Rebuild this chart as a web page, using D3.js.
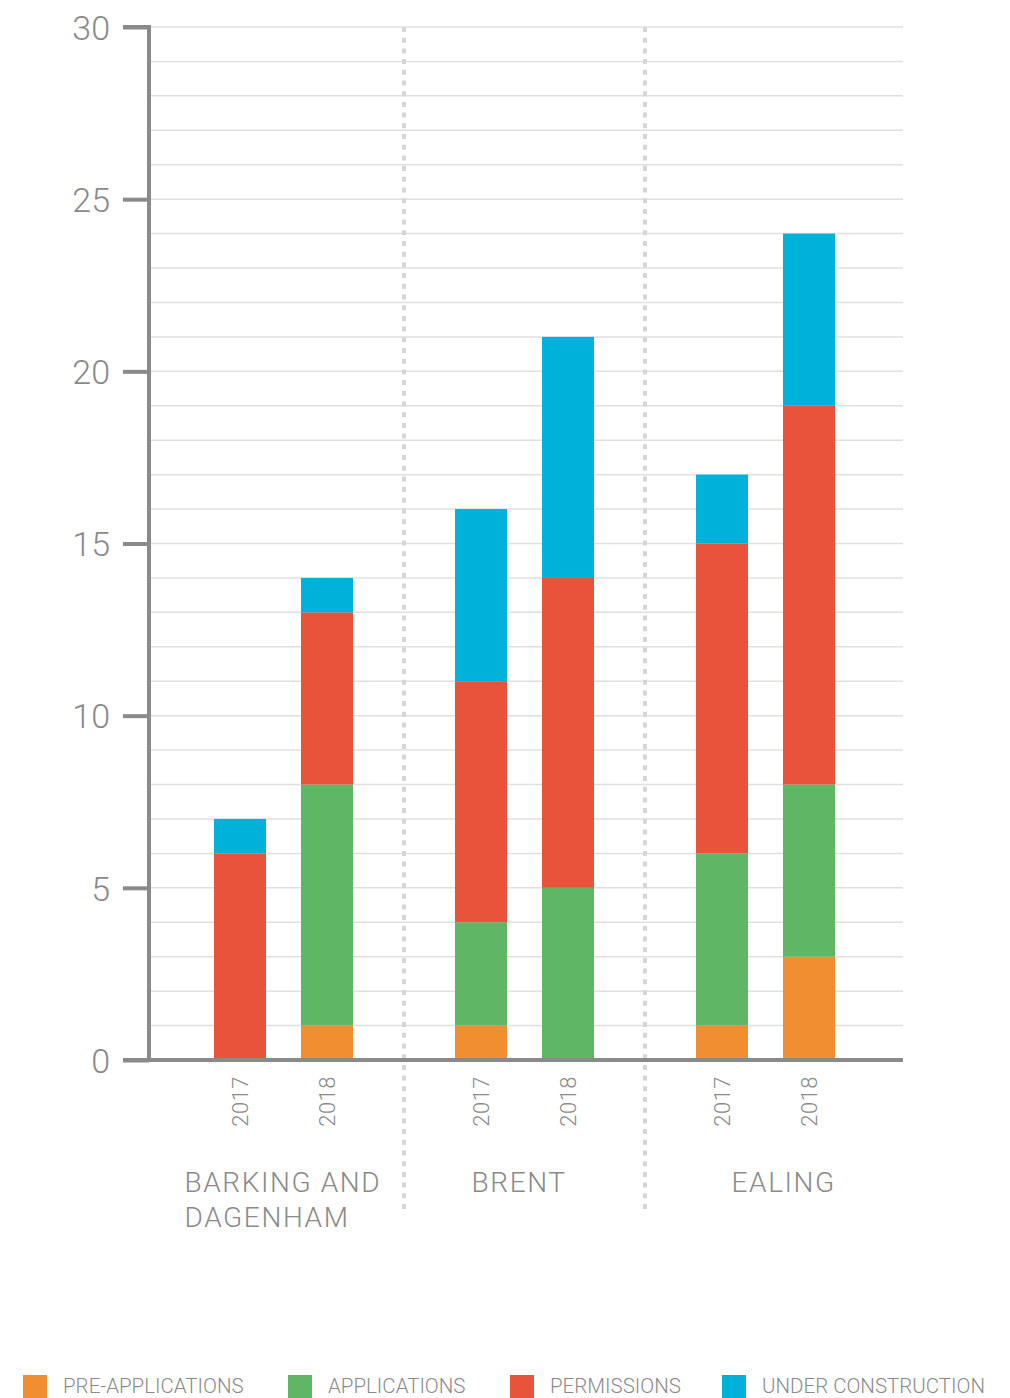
<!DOCTYPE html>
<html>
<head>
<meta charset="utf-8">
<script src="https://cdn.jsdelivr.net/npm/d3@7/dist/d3.min.js"></script>
<style>
  html, body { margin: 0; padding: 0; background: #fff; }
  svg { display: block; }
  text { font-family: Roboto, "Liberation Sans", sans-serif; fill: #8a8a8a; }
</style>
</head>
<body>
<svg id="chart" width="1010" height="1398"></svg>
<script>
// Boroughs, years and stage series
const boroughs = ["BARKING AND DAGENHAM", "BRENT", "EALING"];
const boroughLines = [["BARKING AND", "DAGENHAM"], ["BRENT"], ["EALING"]];
const years = ["2017", "2018"];
const stages = ["PRE-APPLICATIONS", "APPLICATIONS", "PERMISSIONS", "UNDER CONSTRUCTION"];
const stageColors = ["#f28e32", "#5fb766", "#e9533b", "#00b1da"];

// One value per borough/year, in borough order then year order
const preApplications   = [0, 1, 1, 0, 1, 3];
const applications      = [0, 7, 3, 5, 5, 5];
const permissions       = [6, 5, 7, 9, 9, 11];
const underConstruction = [1, 1, 5, 7, 2, 5];

const yTicks = [0, 5, 10, 15, 20, 25, 30];

const rows = [];
boroughs.forEach((b, bi) => years.forEach((yr, yi) => {
  const i = bi * years.length + yi;
  rows.push({
    borough: b, year: yr,
    "PRE-APPLICATIONS": preApplications[i],
    "APPLICATIONS": applications[i],
    "PERMISSIONS": permissions[i],
    "UNDER CONSTRUCTION": underConstruction[i]
  });
}));

const svg = d3.select("#chart");
const axisX = 149, plotRight = 903, plotTop = 27, plotBottom = 1060;

const y = d3.scaleLinear().domain([0, 30]).range([plotBottom, plotTop]);
const xGroup = d3.scaleBand().domain(boroughs).range([163, 886]);
const xYear = d3.scalePoint().domain(years).range([-43.5, 43.5]);
const barW = 52;
const color = d3.scaleOrdinal().domain(stages).range(stageColors);

// Minor gridlines every unit
svg.append("g").selectAll("line")
  .data(d3.range(1, 31))
  .join("line")
  .attr("x1", axisX).attr("x2", plotRight)
  .attr("y1", d => y(d)).attr("y2", d => y(d))
  .attr("stroke", "#e0e0e0").attr("stroke-width", 1.5);

// Dotted separators between boroughs
svg.append("g").selectAll("line")
  .data(boroughs.slice(1))
  .join("line")
  .attr("x1", d => xGroup(d)).attr("x2", d => xGroup(d))
  .attr("y1", plotTop).attr("y2", 1215)
  .attr("stroke", "#d6d6d6").attr("stroke-width", 4)
  .attr("stroke-dasharray", "5 5.7");

// Stacked bars (zero-height segments skipped)
const series = d3.stack().keys(stages)(rows);
svg.append("g").selectAll("g")
  .data(series)
  .join("g")
  .attr("fill", d => color(d.key))
  .selectAll("rect")
  .data(d => d.filter(s => s[1] > s[0]))
  .join("rect")
  .attr("x", d => xGroup(d.data.borough) + xGroup.bandwidth() / 2 + xYear(d.data.year) - barW / 2)
  .attr("width", barW)
  .attr("y", d => y(d[1]))
  .attr("height", d => y(d[0]) - y(d[1]));

// Y axis
const yAxis = d3.axisLeft(y).tickValues(yTicks).tickSize(26).tickPadding(13);
const gy = svg.append("g").attr("transform", `translate(${axisX},0)`).call(yAxis);
gy.select(".domain").attr("d", `M-26,${plotTop}H0V${plotBottom}`)
  .attr("stroke", "#8a8a8a").attr("stroke-width", 4).attr("fill", "none");
gy.selectAll(".tick line").attr("stroke", "#8a8a8a").attr("stroke-width", 4);
gy.selectAll(".tick text")
  .style("font-size", "34px").style("font-weight", 300).attr("fill", "#8a8a8a")
  .attr("dy", "0.36em");

// X baseline
svg.append("line")
  .attr("x1", axisX - 26).attr("x2", plotRight)
  .attr("y1", plotBottom).attr("y2", plotBottom)
  .attr("stroke", "#8a8a8a").attr("stroke-width", 4);

// Year labels, rotated
svg.append("g").selectAll("text")
  .data(rows)
  .join("text")
  .attr("transform", d => {
    const cx = xGroup(d.borough) + xGroup.bandwidth() / 2 + xYear(d.year);
    return `translate(${cx + 8},${plotBottom + 16}) rotate(-90)`;
  })
  .attr("text-anchor", "end")
  .style("font-size", "22px").style("font-weight", 300)
  .style("letter-spacing", "0.5px")
  .text(d => d.year);

// Borough labels
const labelShift = [-99, -53, -34];
const gl = svg.append("g").selectAll("text")
  .data(boroughs)
  .join("text")
  .attr("x", (d, i) => xGroup(d) + xGroup.bandwidth() / 2 + labelShift[i])
  .attr("y", 1192)
  .style("font-size", "28px").style("font-weight", 300)
  .style("letter-spacing", "1.6px");
gl.selectAll("tspan")
  .data((d, i) => boroughLines[i])
  .join("tspan")
  .attr("x", function() { return this.parentNode.getAttribute("x"); })
  .attr("dy", (d, i) => i === 0 ? 0 : 35)
  .text(d => d);

// Legend
const legendX = [23, 288, 510, 722];
const lg = svg.append("g").selectAll("g")
  .data(stages)
  .join("g")
  .attr("transform", (d, i) => `translate(${legendX[i]},1375)`);
lg.append("rect").attr("width", 24).attr("height", 24).attr("fill", d => color(d));
lg.append("text")
  .attr("x", 40).attr("y", 18)
  .style("font-size", "20.5px").style("font-weight", 300)
  .text(d => d);
</script>
</body>
</html>
